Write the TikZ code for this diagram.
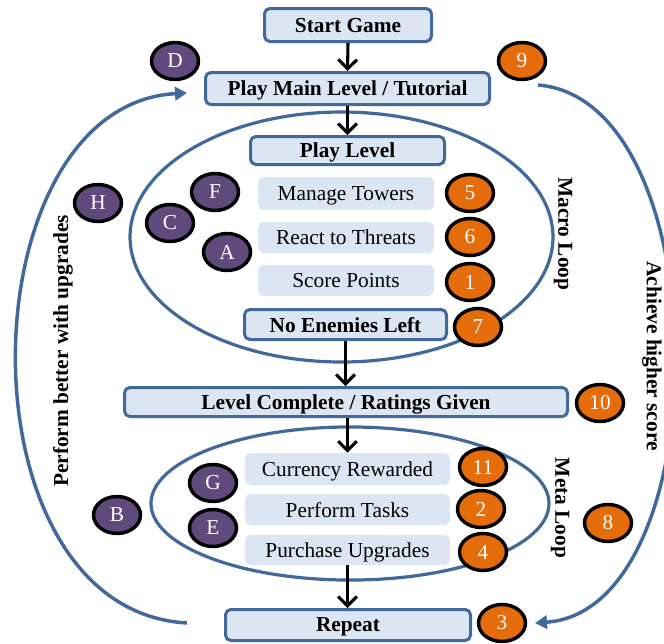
\documentclass[tikz,border=0pt]{standalone}
\usepackage{fontspec}
\setmainfont{Liberation Serif}
\usetikzlibrary{arrows.meta,shapes.geometric}
\definecolor{bblue}{HTML}{41699B}
\definecolor{bfill}{HTML}{DCE6F2}
\definecolor{mpurple}{HTML}{604A7B}
\definecolor{morange}{HTML}{E46C0A}
\newdimen\pxu \pxu=0.75pt
\begin{document}
\begin{tikzpicture}[x=0.75pt,y=-0.75pt,
  font=\fontsize{16}{19}\selectfont,
  mainbox/.style={draw=bblue, line width=2.25pt, fill=bfill, rounded corners=4pt, inner sep=0pt, text depth=0pt, font=\fontsize{16}{19}\selectfont\bfseries},
  subbox/.style={fill=bfill, rounded corners=4pt, inner sep=0pt, text depth=0pt, minimum width=176\pxu},
  msub/.style={subbox, minimum width=205\pxu},
  badge/.style={ellipse, draw=black, line width=2.6pt, inner sep=0pt, minimum width=47\pxu, minimum height=37\pxu, text=white},
  pbadge/.style={badge, fill=mpurple},
  obadge/.style={badge, fill=morange},
  loopline/.style={draw=bblue, line width=2.4pt},
  flow/.style={draw=black, line width=2.3pt, -{Straight Barb[length=7pt,width=14pt]}},
  back/.style={draw=bblue, line width=2.6pt, -{Triangle[length=9pt,width=10pt]}},
  side/.style={font=\fontsize{16}{19}\selectfont\bfseries, inner sep=0pt}
]
\path[use as bounding box] (0,0) rectangle (664,643);
\clip (0,0) rectangle (664,643);

% loops
\draw[loopline] (341.5,237) ellipse [x radius=158.6pt, y radius=93.75pt];
\draw[loopline] (350,503.5) ellipse [x radius=149.25pt, y radius=57.4pt];

% main boxes
\node[mainbox, minimum width=167\pxu, minimum height=33\pxu] (start) at (348,25) {Start Game};
\node[mainbox, minimum width=284\pxu, minimum height=32\pxu] (main) at (347.5,88.5) {Play Main Level / Tutorial};
\node[mainbox, minimum width=194\pxu, minimum height=28\pxu] (play) at (347.5,150.5) {Play Level};
\node[mainbox, minimum width=202\pxu, minimum height=30\pxu] (noen) at (345.5,324.5) {No Enemies Left};
\node[mainbox, minimum width=443\pxu, minimum height=29\pxu] (lvl) at (346,402) {Level Complete / Ratings Given};
\node[mainbox, minimum width=245\pxu, minimum height=31\pxu] (rep) at (348,625) {Repeat};

% sub boxes
\node[subbox, minimum height=33\pxu] (manage) at (346,193.5) {Manage Towers};
\node[subbox, minimum height=31\pxu] (react) at (346,237.5) {React to Threats};
\node[subbox, minimum height=31\pxu] (score) at (346,280.5) {Score Points};
\node[msub, minimum height=32\pxu] (curr) at (347.5,469) {Currency Rewarded};
\node[msub, minimum height=31\pxu] (tasks) at (347.5,509.5) {Perform Tasks};
\node[msub, minimum height=30\pxu] (purch) at (347.5,550) {Purchase Upgrades};

% flow arrows
\draw[flow] (start.south) -- (main.north);
\draw[flow] (main.south) -- (play.north);
\draw[flow] (noen.south) -- (noen.south |- lvl.north);
\draw[flow] (curr.north |- lvl.south) -- (curr.north);
\draw[flow] (purch.south) -- (purch.south |- rep.north);

% back arcs
\coordinate (lfrom) at (187,623);
\coordinate (lto) at (187,93);
\coordinate (rfrom) at (538,85);
\coordinate (rto) at (535,623);
\draw[back] (lfrom) .. controls (-45,610) and (-35,105) .. (lto);
\draw[back] (rfrom) .. controls (720,100) and (720,610) .. (rto);

% side labels
\node[side, rotate=-90] (macro) at (563,234) {Macro Loop};
\node[side, rotate=-90] (meta) at (560,508) {Meta Loop};
\node[side, rotate=-90] (achieve) at (652,356) {Achieve higher score};
\node[side, rotate=90] (perform) at (63,351) {Perform better with upgrades};

% badges
\node[pbadge] (bD) at (175,61) {D};
\node[obadge] (b9) at (522,61) {9};
\node[pbadge] (bH) at (98,203) {H};
\node[pbadge] (bF) at (215,192) {F};
\node[pbadge] (bC) at (170,223) {C};
\node[pbadge] (bA) at (227,252) {A};
\node[obadge] (b5) at (470,193) {5};
\node[obadge] (b6) at (470,237) {6};
\node[obadge] (b1) at (470,282) {1};
\node[obadge] (b7) at (478,327) {7};
\node[obadge] (b10) at (600,403) {10};
\node[pbadge] (bG) at (213,483) {G};
\node[pbadge] (bE) at (213,528) {E};
\node[pbadge] (bB) at (117,515) {B};
\node[obadge] (b11) at (483,467) {11};
\node[obadge] (b2) at (481,509) {2};
\node[obadge] (b4) at (483,552) {4};
\node[obadge] (b8) at (608,523) {8};
\node[obadge] (b3) at (502,623) {3};
\end{tikzpicture}
\end{document}
